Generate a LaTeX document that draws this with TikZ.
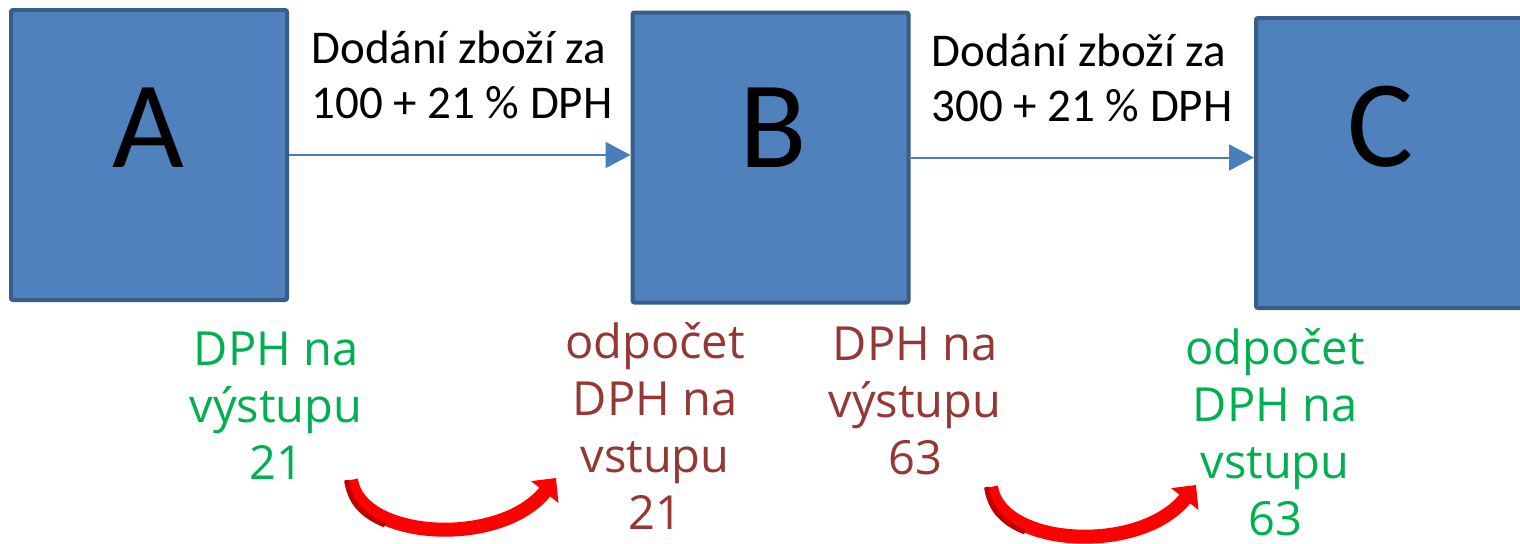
\documentclass[tikz,border=0pt]{standalone}
\usepackage{fontspec}
\setmainfont{Carlito}
\newfontfamily\labelfont{Open Sans}
\usetikzlibrary{arrows.meta}
\definecolor{boxfill}{HTML}{4F81BD}
\definecolor{boxline}{HTML}{385D8A}
\definecolor{flowblue}{HTML}{4A7EBB}
\definecolor{vatgreen}{HTML}{00B050}
\definecolor{vatred}{HTML}{953735}
\definecolor{curvered}{HTML}{FF0000}
\definecolor{curvedark}{HTML}{C00000}
\tikzset{
  party/.style={draw=boxline, fill=boxfill, line width=2pt, rounded corners=1pt,
    minimum width=138pt, minimum height=145pt, inner sep=0pt},
  letter/.style={inner sep=0pt, font=\fontsize{62}{62}\selectfont, text=black},
  flow/.style={draw=flowblue, line width=1pt, -{Triangle[length=12.5pt,width=13pt]}},
  deal/.style={align=left, anchor=west, inner sep=0pt, font=\fontsize{23.5}{27.5}\selectfont},
  vatlabel/.style={align=center, inner sep=0pt, font=\labelfont\fontsize{23.5}{28.5}\selectfont},
  transfer/.style={draw=curvered, line width=7pt, -{Triangle[length=9pt,width=17pt]}},
  tailshade/.style={draw=curvedark, line width=2.5pt}
}
\begin{document}
\begin{tikzpicture}[x=0.5pt,y=-0.5pt]
\path[use as bounding box] (0,0) rectangle (1520,543);
\clip (0,0) rectangle (1520,543);
\node[party] (A) at (149,155) {};
\node[party] (B) at (770.5,157.5) {};
\node[party] (C) at (1394,163) {};
\node[letter] (tA) at (148,128) {A};
\node[letter] (tB) at (773,128) {B};
\node[letter] (tC) at (1381,127) {C};
\draw[flow] (A.east) -- (B.west |- A.east);
\draw[flow] (B.east) -- (C.west |- B.east);
\node[deal] (d1) at (311,75) {Dodání zboží za\\100 + 21 \% DPH};
\node[deal] (d2) at (931,78) {Dodání zboží za\\300 + 21 \% DPH};
\node[vatlabel, text=vatgreen] (g1) at (276,406) {DPH na\\výstupu\\21};
\node[vatlabel, text=vatred] (r1) at (655,426) {odpočet\\DPH na\\vstupu\\21};
\node[vatlabel, text=vatred] (r2) at (915,401) {DPH na\\výstupu\\63};
\node[vatlabel, text=vatgreen] (g2) at (1275,432) {odpočet\\DPH na\\vstupu\\63};
\coordinate (s1) at (351,480);
\coordinate (e1) at (556,478);
\coordinate (s2) at (991,487);
\coordinate (e2) at (1196,485);
\draw[transfer] (s1) .. controls (360,540) and (500,548) .. (e1);
\draw[transfer] (s2) .. controls (1000,547) and (1140,555) .. (e2);
\draw[tailshade] ([xshift=-2pt]s1) .. controls (349,500) and (360,515) .. (385,525);
\draw[tailshade] ([xshift=-2pt]s2) .. controls (989,507) and (1000,522) .. (1025,532);
\end{tikzpicture}
\end{document}
